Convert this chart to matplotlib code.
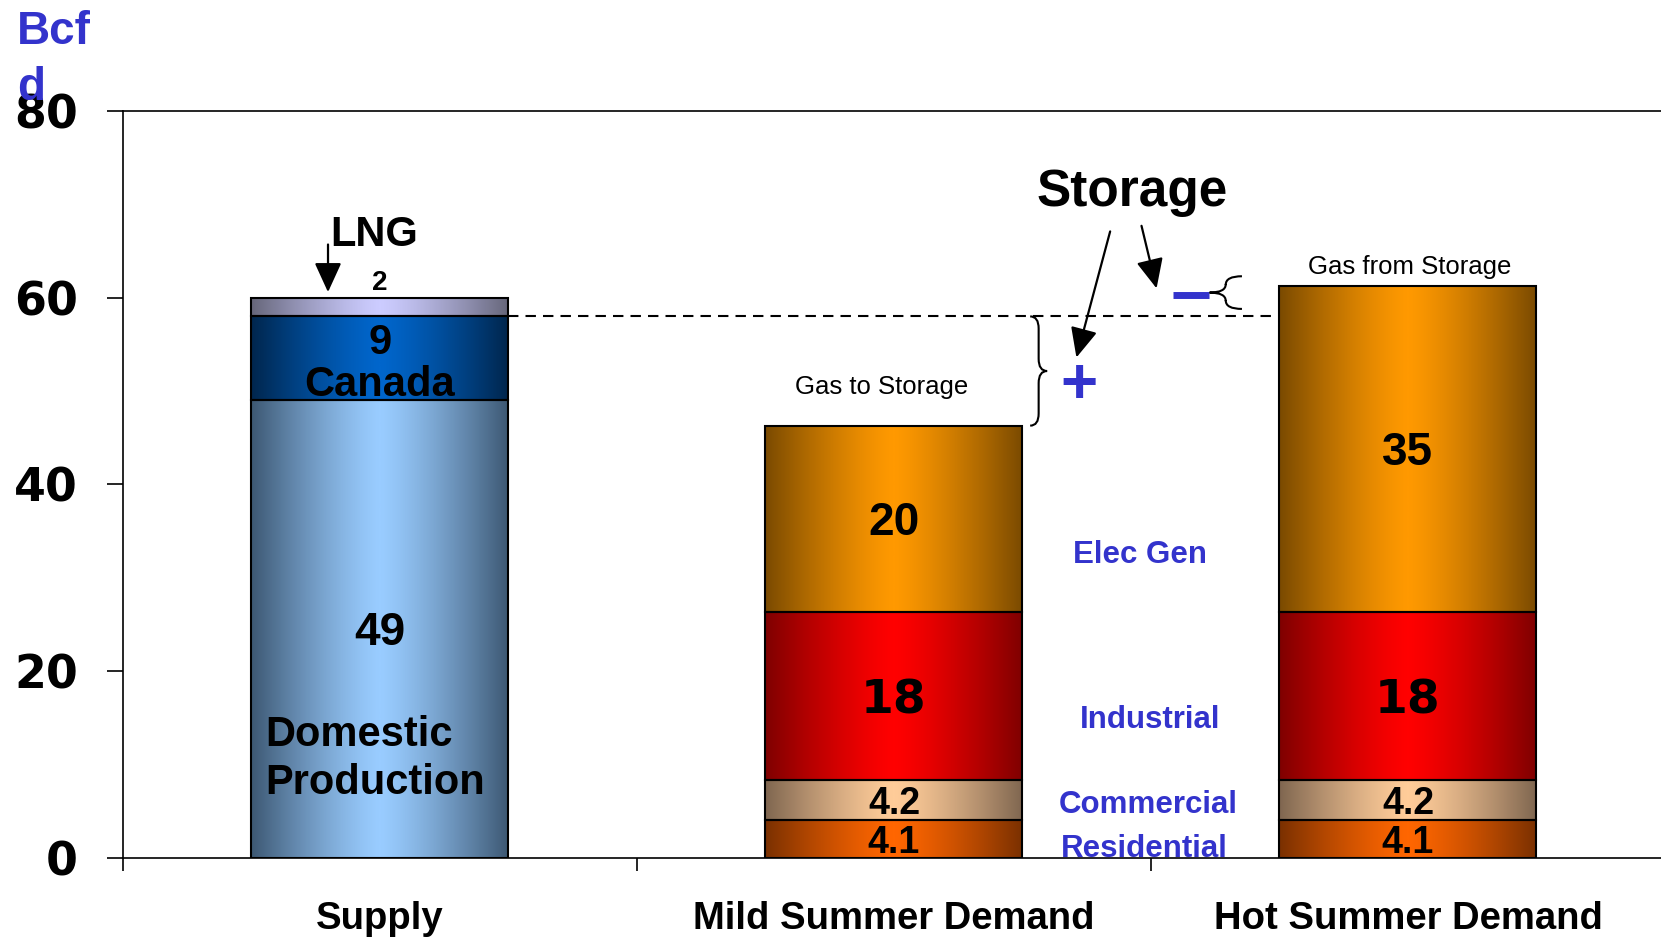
import numpy as np
import matplotlib
matplotlib.use("Agg")
import matplotlib.pyplot as plt
from matplotlib.colors import LinearSegmentedColormap
from matplotlib.path import Path
from matplotlib.patches import PathPatch

# ---- data (Bcf/d) ----
categories = ["Supply", "Mild Summer Demand", "Hot Summer Demand"]
supply_parts = ["Domestic Production", "Canada", "LNG"]
supply_values = [49, 9, 2]
demand_parts = ["Residential", "Commercial", "Industrial", "Elec Gen"]
mild_values = [4.1, 4.2, 18, 20]
hot_values = [4.1, 4.2, 18, 35]
y_ticks = [0, 20, 40, 60, 80]

# gradient colours: (edge, centre)
supply_shades = [("#3d5873", "#99ccff"), ("#00264d", "#0066cc"), ("#66667a", "#ccccff")]
demand_shades = [("#7a3000", "#ff6600"), ("#7f6650", "#ffcc99"),
                 ("#7f0000", "#ff0000"), ("#7a4a00", "#ff9900")]

BLUE = "#3333cc"
BAR_W = 0.5
DY = -0.45  # nudge so va='center' sits on the glyph middle

plt.rcParams['font.family'] = ['Liberation Sans', 'DejaVu Sans']

fig = plt.figure(figsize=(16.61, 9.38), dpi=100)
ax = fig.add_axes([0.074, 0.0853, 0.9284, 0.7964])


def shade(patch, edge, centre):
    x0, y0 = patch.get_x(), patch.get_y()
    w, h = patch.get_width(), patch.get_height()
    u = np.linspace(0, 1, 300)
    t = 1 - np.abs(2 * u - 1) ** 1.3
    cmap = LinearSegmentedColormap.from_list("g", [edge, centre])
    ax.imshow(t[None, :], cmap=cmap, vmin=0, vmax=1, aspect='auto',
              extent=[x0, x0 + w, y0, y0 + h], interpolation='bilinear', zorder=1)


def brace(x_base, x_tip, y_lo, y_hi, r=1.3):
    xm = (x_base + x_tip) / 2
    ym = (y_lo + y_hi) / 2
    verts = [(x_base, y_hi), (xm, y_hi), (xm, y_hi - r),
             (xm, ym + r),
             (xm, ym), (x_tip, ym),
             (xm, ym), (xm, ym - r),
             (xm, y_lo + r),
             (xm, y_lo), (x_base, y_lo)]
    codes = [Path.MOVETO, Path.CURVE3, Path.CURVE3, Path.LINETO,
             Path.CURVE3, Path.CURVE3, Path.CURVE3, Path.CURVE3,
             Path.LINETO, Path.CURVE3, Path.CURVE3]
    ax.add_patch(PathPatch(Path(verts, codes), facecolor='none',
                           edgecolor='black', lw=1.5, zorder=3))


arrow_style = dict(arrowstyle='-|>,head_length=0.7,head_width=0.32',
                   color='black', lw=1.6, mutation_scale=26, shrinkA=0, shrinkB=0)

# ---- stacked bars ----
x = np.arange(len(categories))
stacks = [(x[0], supply_values, supply_shades),
          (x[1], mild_values, demand_shades),
          (x[2], hot_values, demand_shades)]
for xpos, vals, shades in stacks:
    bottoms = np.concatenate([[0], np.cumsum(vals)[:-1]])
    bars = ax.bar([xpos] * len(vals), vals, width=BAR_W, bottom=bottoms,
                  facecolor='none', edgecolor='black', linewidth=1.5, zorder=2)
    for patch, (edge, centre) in zip(bars, shades):
        shade(patch, edge, centre)

# ---- value labels ----
sup_cum = np.cumsum(supply_values)
ax.text(x[0], supply_values[0] / 2 + DY, f"{supply_values[0]}", ha='center', va='center',
        fontsize=33, fontweight='bold')
ax.text(x[0] - 0.224, 10.6, "Domestic\nProduction", ha='left', va='center',
        fontsize=30, fontweight='bold', linespacing=1.27)
ax.text(x[0], 55.6 + DY, f"{supply_values[1]}", ha='center', va='center',
        fontsize=30, fontweight='bold')
ax.text(x[0], 51.1 + DY, supply_parts[1], ha='center', va='center',
        fontsize=30, fontweight='bold')
ax.text(x[0], sup_cum[2] + 2.0 + DY, f"{supply_values[2]}", ha='center', va='center',
        fontsize=20, fontweight='bold')
ax.text(x[0] - 0.012, 67.2 + DY, supply_parts[2], ha='center', va='center',
        fontsize=30, fontweight='bold')
ax.annotate("", xy=(x[0] - 0.101, sup_cum[2] + 0.6), xytext=(x[0] - 0.101, 65.7),
            arrowprops=arrow_style)

for xpos, vals in [(x[1], mild_values), (x[2], hot_values)]:
    bottoms = np.concatenate([[0], np.cumsum(vals)[:-1]])
    for i, (v, b) in enumerate(zip(vals, bottoms)):
        if i == 2:
            ax.text(xpos, b + v / 2 + DY, f"{v:g}", ha='center', va='center',
                    fontsize=34, fontweight='bold', family='DejaVu Sans')
        elif i == 3:
            ax.text(xpos, b + v / 2 + DY, f"{v:g}", ha='center', va='center',
                    fontsize=33, fontweight='bold')
        else:
            ax.text(xpos, b + v / 2 + DY, f"{v:g}", ha='center', va='center',
                    fontsize=27, fontweight='bold')

# sector names between the demand bars
name_x = [1.488, 1.494, 1.498, 1.479]
name_y = [1.36, 6.13, 15.2, 32.9]
for name, xx, yy in zip(demand_parts, name_x, name_y):
    ax.text(xx, yy + DY, name, ha='center', va='center', fontsize=22.5,
            fontweight='bold', color=BLUE)

# ---- storage annotation ----
ax.plot([x[0] + BAR_W / 2, x[2] - BAR_W / 2], [sup_cum[1], sup_cum[1]],
        color='black', lw=1.5, dashes=(5, 3.4), zorder=3)
ax.text(x[1] - 0.024, 49.7, "Gas to Storage", ha='center', va='baseline', fontsize=18.5)
ax.text(x[2] + 0.003, 62.5, "Gas from Storage", ha='center', va='baseline', fontsize=18.5)
ax.text(1.463, 69.8, "Storage", ha='center', va='baseline', fontsize=37, fontweight='bold')
brace(1.265, 1.298, sum(mild_values), sup_cum[1])
brace(1.677, 1.614, 58.8, 62.3, r=0.9)
ax.text(1.36, 51.0 + DY, "+", ha='center', va='center', fontsize=46, fontweight='bold', color=BLUE)
ax.plot([1.543, 1.613], [60.3, 60.3], color=BLUE, lw=5, solid_capstyle='butt')
for start, tip in [((1.4206, 67.1), (1.355, 53.6)), ((1.4816, 67.7), (1.5109, 61.0))]:
    ax.annotate("", xy=tip, xytext=start, arrowprops=arrow_style)

# ---- axes ----
ax.set_xlim(-0.5, 2.5)
ax.set_ylim(0, 80)
ax.set_yticks(y_ticks)
ax.set_yticklabels([str(v) for v in y_ticks], fontsize=33, fontweight='bold',
                   family='DejaVu Sans')
ax.tick_params(axis='y', direction='out', length=11.5, width=1.2, pad=21)
ax.set_xticks(x)
ax.set_xticklabels(categories, fontsize=27.5, fontweight='bold')
ax.set_xticks([-0.5, 0.5, 1.5, 2.5], minor=True)
ax.tick_params(axis='x', which='major', length=0, pad=31)
ax.tick_params(axis='x', which='minor', direction='out', length=9, width=1.2)
for s in ax.spines.values():
    s.set_linewidth(1.2)

fig.text(17 / 1661, 1 - 10 / 938, "Bcf\nd", ha='left', va='top', fontsize=33,
         fontweight='bold', color=BLUE, linespacing=1.36)

fig.savefig("out.png", dpi=100)
